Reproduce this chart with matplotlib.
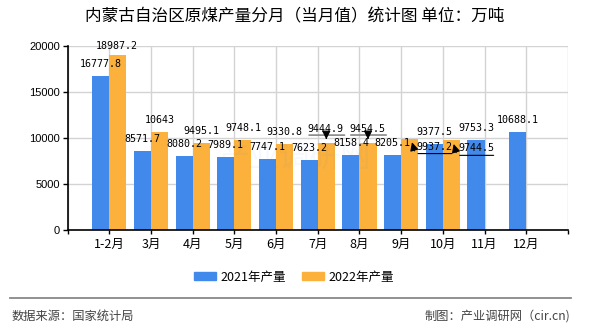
import numpy as np
import matplotlib
matplotlib.use('Agg')
import matplotlib.pyplot as plt
from matplotlib.patches import Patch
from matplotlib.lines import Line2D
from matplotlib.transforms import offset_copy

plt.rcParams['font.family'] = ['Noto Sans CJK SC', 'DejaVu Sans']

# data
months = ['1-2月', '3月', '4月', '5月', '6月', '7月', '8月', '9月', '10月', '11月', '12月']
prod_2021 = [16777.8, 8571.7, 8080.2, 7989.1, 7747.1, 7623.2, 8158.4, 8205.1, 9377.5, 9753.3, 10688.1]
prod_2022 = [18987.2, 10643, 9495.1, 9748.1, 9330.8, 9444.9, 9454.5, 9937.2, 9744.5, np.nan, np.nan]
y_ticks = [0, 5000, 10000, 15000, 20000]

blue = '#4189EA'
orange = '#FBB13C'

fig = plt.figure(figsize=(5.9, 3.3), dpi=100)
ax = fig.add_axes([67.5 / 590, 1 - 230 / 330, 500.5 / 590, 184 / 330])

x = np.arange(len(months))
w = 0.41
ax.bar(x - w / 2, prod_2021, width=w, color=blue, zorder=3)
ax.bar(x + w / 2, prod_2022, width=w, color=orange, zorder=3)

ax.set_xlim(-1, len(months))
ax.set_ylim(0, 20000)
ax.set_yticks(y_ticks)
ax.set_yticklabels([str(v) for v in y_ticks], family='Liberation Sans', fontsize=8)
ax.set_xticks(np.arange(-1, len(months) + 1))
ax.set_xticklabels([''] + months + [''], fontsize=9)
ax.tick_params(axis='y', length=3.6, width=1, pad=2)
ax.tick_params(axis='x', length=3, width=1, pad=3)
ax.grid(True, color='#d3d3d3', lw=1, zorder=0)
for s in ['top', 'right']:
    ax.spines[s].set_visible(False)
for s in ['left', 'bottom']:
    ax.spines[s].set_linewidth(1.2)
    ax.spines[s].set_zorder(4)

lab = dict(fontsize=7.2, family='DejaVu Sans Mono', ha='center', va='center',
           textcoords='offset pixels', zorder=5)

# 2021 labels
for i, v in enumerate(prod_2021):
    ax.annotate(f'{v:g}', (x[i] - w / 2, v), xytext=(0, 12), **lab)

# 2022 labels, a few moved with leader lines
moved_up = {5, 6}
moved_right = {7, 8}
for i, v in enumerate(prod_2022):
    if np.isnan(v):
        continue
    xb = x[i] + w / 2
    if i == 0:
        ax.annotate(f'{v:g}', (xb, v), xytext=(-1, 9), **lab)
    elif i in moved_up:
        ax.annotate(f'{v:g}', (xb, v), xytext=(-1, 14), **lab)
        ax.annotate('', xy=(xb, v), xycoords=offset_copy(ax.transData, fig=fig, x=21, y=8, units='dots'),
                    xytext=(xb, v), textcoords=offset_copy(ax.transData, fig=fig, x=-20, y=8, units='dots'),
                    arrowprops=dict(arrowstyle='-', color='#888888', lw=1.2), zorder=5)
        ax.annotate('', xy=(xb, v), xycoords=offset_copy(ax.transData, fig=fig, x=0, y=1, units='dots'),
                    xytext=(xb, v), textcoords=offset_copy(ax.transData, fig=fig, x=0, y=8, units='dots'),
                    arrowprops=dict(arrowstyle='-|>,head_length=0.5,head_width=0.25', color='black', lw=0.8),
                    zorder=5)
    elif i in moved_right:
        ax.annotate(f'{v:g}', (xb, v), xytext=(25, -8), **lab)
        ax.annotate('', xy=(xb, v), xycoords=offset_copy(ax.transData, fig=fig, x=45, y=-15, units='dots'),
                    xytext=(xb, v), textcoords=offset_copy(ax.transData, fig=fig, x=5.5, y=-15, units='dots'),
                    arrowprops=dict(arrowstyle='-', color='black', lw=0.8), zorder=5)
        ax.annotate('', xy=(xb, v), xycoords=offset_copy(ax.transData, fig=fig, x=1.5, y=-1, units='dots'),
                    xytext=(xb, v), textcoords=offset_copy(ax.transData, fig=fig, x=5.5, y=-15, units='dots'),
                    arrowprops=dict(arrowstyle='-|>,head_length=0.5,head_width=0.25', color='black', lw=0.8),
                    zorder=5)
    else:
        ax.annotate(f'{v:g}', (xb, v), xytext=(0, 12), **lab)

# faint watermark
fig.text(0.5, 0.52, '产业调研网', fontsize=22, color='#4189EA', alpha=0.05, ha='center', va='center')

fig.text(294.5 / 590, 1 - 17 / 330, '内蒙古自治区原煤产量分月（当月值）统计图 单位：万吨',
         fontsize=12, ha='center', va='center')

handles = [Patch(color=blue, label='2021年产量'), Patch(color=orange, label='2022年产量')]
fig.legend(handles=handles, loc='center', bbox_to_anchor=(294 / 590, 1 - 277 / 330), ncol=2,
           frameon=False, fontsize=9, handlelength=1.76, handleheight=0.64,
           handletextpad=0.35, columnspacing=1.3, borderpad=0)

fig.add_artist(Line2D([10 / 590, 571 / 590], [1 - 298 / 330, 1 - 298 / 330],
                      transform=fig.transFigure, color='#888888', lw=1.3))
fig.text(12 / 590, 1 - 316 / 330, '数据来源：国家统计局', fontsize=8.8, color='#444444',
         ha='left', va='center')
fig.text(570 / 590, 1 - 316 / 330, '制图：产业调研网（cir.cn)', fontsize=8.8, color='#444444',
         ha='right', va='center')

fig.savefig('out.png', dpi=100)
